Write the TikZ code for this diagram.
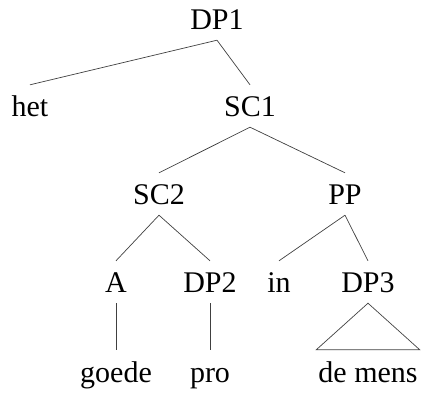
\documentclass[tikz,border=0pt]{standalone}
\usepackage{fontspec}
\setmainfont{Liberation Serif}
\usepackage{tikz}

\begin{document}
\begin{tikzpicture}[x=1pt,y=-1pt,
  every node/.style={anchor=base,font=\fontsize{30}{36}\selectfont,
    text height=22pt,text depth=0pt,inner xsep=2pt,inner ysep=10pt},
  branch/.style={draw=black!75,line width=0.7pt}]
  \useasboundingbox (0,0) rectangle (421,393);
  \node (dp1) at (217, 30) {DP1};
  \node (het) at (30, 117) {het};
  \node (sc1) at (250, 117) {SC1};
  \node (sc2) at (159, 205) {SC2};
  \node (pp) at (345, 205) {PP};
  \node (a) at (116, 293) {A};
  \node (dp2) at (210, 293) {DP2};
  \node (in) at (279, 293) {in};
  \node (dp3) at (368, 293) {DP3};
  \node (goede) at (116, 382) {goede};
  \node (pro) at (210, 382) {pro};
  \node (mens) at (368, 382) {de mens};

  \draw [branch] (dp1.south) -- (het.north);
  \draw [branch] (dp1.south) -- (sc1.north);
  \draw [branch] (sc1.south) -- (sc2.north);
  \draw [branch] (sc1.south) -- (pp.north);
  \draw [branch] (sc2.south) -- (a.north);
  \draw [branch] (sc2.south) -- (dp2.north);
  \draw [branch] (pp.south) -- (in.north);
  \draw [branch] (pp.south) -- (dp3.north);
  \draw [branch] (a.south) -- (goede.north);
  \draw [branch] (dp2.south) -- (pro.north);
  % roof over the unanalysed phrase
  \draw [branch] (dp3.south) -- (mens.north west) -- (mens.north east) -- cycle;
\end{tikzpicture}
\end{document}
